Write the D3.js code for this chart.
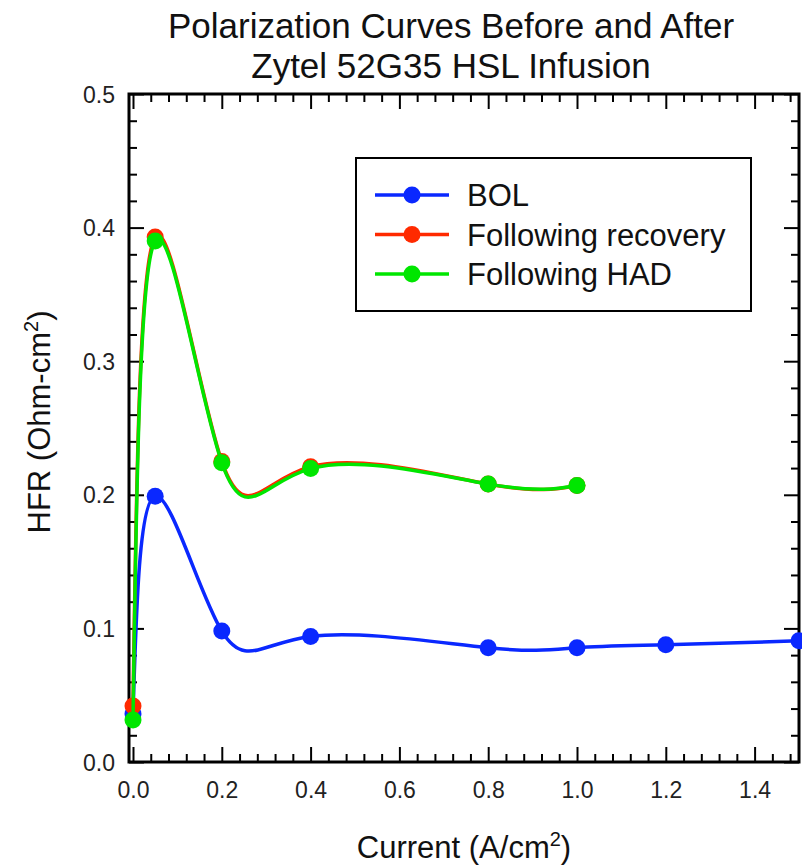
<!DOCTYPE html>
<html>
<head>
<meta charset="utf-8">
<script src="https://cdn.jsdelivr.net/npm/d3@7"></script>
<style>
  body { margin: 0; background: #fff; }
  svg { display: block; font-family: "Liberation Sans", Arial, sans-serif; }
</style>
</head>
<body>
<div id="chart"></div>
<script>
// data
var current = [0, 0.05, 0.2, 0.4, 0.8, 1.0, 1.2, 1.5];
var bol = [0.036, 0.199, 0.098, 0.094, 0.0855, 0.0855, 0.0877, 0.0907];
var recovery = [0.042, 0.393, 0.225, 0.221, 0.208, 0.207];
var had = [0.0315, 0.390, 0.224, 0.2196, 0.208, 0.207];

var seriesNames = ["BOL", "Following recovery", "Following HAD"];
var seriesColors = ["#0a28ff", "#ff2a00", "#00e600"];
var xMajor = [0, 0.2, 0.4, 0.6, 0.8, 1.0, 1.2, 1.4];
var yMajor = [0, 0.1, 0.2, 0.3, 0.4, 0.5];

var width = 802,
	height = 867,
	LEFT = 129, RIGHT = 799, TOP = 94, BOTTOM = 762,
	MAJOR = 15, MINOR = 8,
	RADIUS = 8.5;

var svg = d3.select("#chart").append("svg")
	.attr("width", width)
	.attr("height", height);

var x = d3.scaleLinear().domain([-0.009, 1.5]).range([LEFT, RIGHT]);
var y = d3.scaleLinear().domain([0, 0.5]).range([BOTTOM, TOP]);

// minor ticks: every 0.04 in x, every 0.02 in y
var xMinor = d3.range(0, 75).map(function(i) { return i * 0.04; })
	.filter(function(v) { return v <= 1.5 && Math.abs(v / 0.2 - Math.round(v / 0.2)) > 1e-6; });
var yMinor = d3.range(0, 26).map(function(i) { return i * 0.02; })
	.filter(function(v) { return Math.abs(v / 0.1 - Math.round(v / 0.1)) > 1e-6; });

var fmt = d3.format(".1f");

function drawAxis(axis, transform, labels) {
	var g = svg.append("g").attr("transform", transform).call(axis);
	g.select(".domain").remove();
	g.selectAll(".tick line").attr("stroke", "#000").attr("stroke-width", 2);
	if (!labels) g.selectAll(".tick text").remove();
	return g;
}

// inward ticks on all four sides
[["bottom", BOTTOM, true], ["top", TOP, false]].forEach(function(s) {
	var mk = s[0] == "bottom" ? d3.axisBottom : d3.axisTop;
	drawAxis(mk(x).tickValues(xMinor).tickSize(-MINOR).tickFormat(""), "translate(0," + s[1] + ")", false);
	var g = drawAxis(mk(x).tickValues(xMajor).tickSize(-MAJOR).tickFormat(fmt), "translate(0," + s[1] + ")", s[2]);
	g.selectAll(".tick text")
		.attr("y", 20)
		.attr("dy", "0.71em")
		.style("font-size", "23px")
		.attr("fill", "#222");
});

[["left", LEFT, true], ["right", RIGHT, false]].forEach(function(s) {
	var mk = s[0] == "left" ? d3.axisLeft : d3.axisRight;
	drawAxis(mk(y).tickValues(yMinor).tickSize(-MINOR).tickFormat(""), "translate(" + s[1] + ",0)", false);
	var g = drawAxis(mk(y).tickValues(yMajor).tickSize(-MAJOR).tickFormat(fmt), "translate(" + s[1] + ",0)", s[2]);
	g.selectAll(".tick text")
		.attr("x", -14)
		.attr("dy", "0.35em")
		.style("font-size", "23px")
		.attr("fill", "#222");
});

// the frame
svg.append("rect")
	.attr("x", LEFT).attr("y", TOP)
	.attr("width", RIGHT - LEFT).attr("height", BOTTOM - TOP)
	.attr("fill", "none").attr("stroke", "#000").attr("stroke-width", 3);

// curves
var line = d3.line()
	.x(function(d) { return x(d[0]); })
	.y(function(d) { return y(d[1]); })
	.curve(d3.curveNatural);

var series = [bol, recovery, had].map(function(vals) {
	return vals.map(function(v, i) { return [current[i], v]; });
});

var plot = svg.append("g");
series.forEach(function(pts, k) {
	plot.append("path")
		.attr("d", line(pts))
		.attr("fill", "none")
		.attr("stroke", seriesColors[k])
		.attr("stroke-width", 3.5);
	plot.selectAll(".pt" + k)
		.data(pts)
		.enter()
		.append("circle")
		.attr("cx", function(d) { return x(d[0]); })
		.attr("cy", function(d) { return y(d[1]); })
		.attr("r", RADIUS)
		.attr("fill", seriesColors[k]);
});

// legend
var legend = svg.append("g").attr("transform", "translate(356,158)");
legend.append("rect")
	.attr("width", 395).attr("height", 153)
	.attr("fill", "#fff").attr("stroke", "#000").attr("stroke-width", 2);

var rows = legend.selectAll(".row")
	.data(seriesNames)
	.enter()
	.append("g")
	.attr("transform", function(d, i) { return "translate(0," + (37 + i * 39.5) + ")"; });

rows.append("line")
	.attr("x1", 19).attr("x2", 93)
	.attr("stroke", function(d, i) { return seriesColors[i]; })
	.attr("stroke-width", 3.5);
rows.append("circle")
	.attr("cx", 56).attr("r", RADIUS)
	.attr("fill", function(d, i) { return seriesColors[i]; });
rows.append("text")
	.attr("x", 111)
	.attr("dy", "0.36em")
	.style("font-size", "31px")
	.attr("fill", "#111")
	.text(function(d) { return d; });

// title
var title = svg.append("text")
	.attr("text-anchor", "middle")
	.style("font-size", "35px")
	.attr("fill", "#111");
title.append("tspan").attr("x", 451).attr("y", 38).text("Polarization Curves Before and After");
title.append("tspan").attr("x", 451).attr("y", 78).text("Zytel 52G35 HSL Infusion");

// axis titles
var xt = svg.append("text")
	.attr("x", 464).attr("y", 858)
	.attr("text-anchor", "middle")
	.style("font-size", "31px")
	.attr("fill", "#111");
xt.append("tspan").text("Current (A/cm");
xt.append("tspan").attr("dy", -12).style("font-size", "20px").text("2");
xt.append("tspan").attr("dy", 12).text(")");

var yt = svg.append("text")
	.attr("transform", "translate(50,422) rotate(-90)")
	.attr("text-anchor", "middle")
	.style("font-size", "31px")
	.attr("fill", "#111");
yt.append("tspan").text("HFR (Ohm-cm");
yt.append("tspan").attr("dy", -12).style("font-size", "20px").text("2");
yt.append("tspan").attr("dy", 12).text(")");
</script>
</body>
</html>
